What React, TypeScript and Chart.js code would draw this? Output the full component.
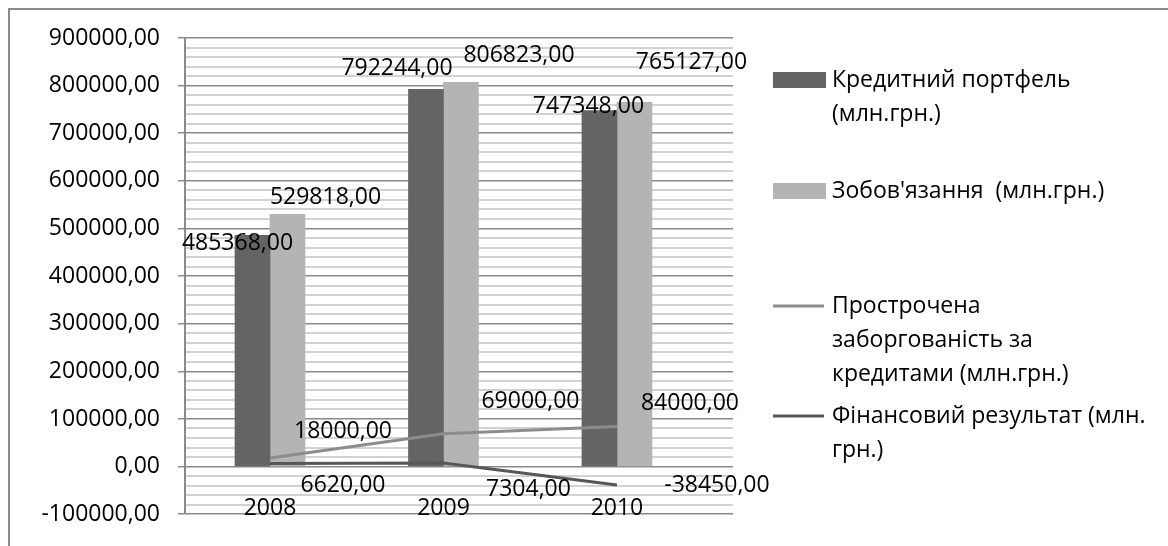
import React, { useEffect, useRef } from 'react';
import { Chart, registerables } from 'chart.js';

Chart.register(...registerables);

// ---- data ----
const years = [2008, 2009, 2010];
const yearLabels = ['2008', '2009', '2010'];
const creditPortfolio = [485368, 792244, 747348];
const liabilities = [529818, 806823, 765127];
const overdueDebt = [18000, 69000, 84000];
const financialResult = [6620, 7304, -38450];
const seriesNames = [
  'Кредитний портфель (млн.грн.)',
  "Зобов'язання  (млн.грн.)",
  'Прострочена заборгованість за кредитами (млн.грн.)',
  'Фінансовий результат (млн. грн.)',
];
const legendLines = [
  ['Кредитний портфель', '(млн.грн.)'],
  ["Зобов'язання  (млн.грн.)"],
  ['Прострочена', 'заборгованість за', 'кредитами (млн.грн.)'],
  ['Фінансовий результат (млн.', 'грн.)'],
];
const yMin = -100000;
const yMax = 900000;
const yMajorStep = 100000;
const yMinorStep = 20000;

// ---- styling / layout ----
const FONT = '"Open Sans", "Noto Sans", sans-serif';
const FONT_SIZE = 23;
const colors = ['#646464', '#b4b4b4', '#8c8c8c', '#575757'];
// data label offsets (px) from each mark's anchor
const labelOffsets = [
  [[-15, 8], [-29, -21], [-11, -4]],
  [[38, -17], [58, -27], [57, -40]],
  [[73, -27], [87, -32], [73, -23]],
  [[73, 22], [85, 26], [100, 1]],
];

const fmt = (v: number) => v.toFixed(2).replace('.', ',');

const toPts = (arr: number[]) => arr.map((y, i) => ({ x: years[i], y }));

export default function App() {
  const ref = useRef<HTMLCanvasElement | null>(null);

  useEffect(() => {
    if (!ref.current) return;

    const decorPlugin = {
      id: 'decor',
      beforeDraw(chart: any) {
        const ctx = chart.ctx;
        ctx.save();
        ctx.fillStyle = '#ffffff';
        ctx.fillRect(0, 0, chart.width, chart.height);
        ctx.restore();
      },
      afterDraw(chart: any) {
        const ctx = chart.ctx;
        const xs = chart.scales.x;
        const ys = chart.scales.y;
        ctx.save();
        // outer frame
        ctx.strokeStyle = '#8c8c8c';
        ctx.lineWidth = 2;
        ctx.beginPath();
        ctx.moveTo(9, chart.height);
        ctx.lineTo(9, 9);
        ctx.lineTo(chart.width, 9);
        ctx.stroke();

        ctx.font = `${FONT_SIZE}px ${FONT}`;
        ctx.fillStyle = '#000';
        ctx.textBaseline = 'middle';
        ctx.textAlign = 'center';
        // category labels
        years.forEach((yr, i) => {
          ctx.fillText(yearLabels[i], xs.getPixelForValue(yr), ys.getPixelForValue(yMin) - 6);
        });

        // data labels
        chart.data.datasets.forEach((ds: any, di: number) => {
          const meta = chart.getDatasetMeta(di);
          meta.data.forEach((el: any, i: number) => {
            const v = ds.data[i].y;
            const anchorY = ys.getPixelForValue(v);
            const off = labelOffsets[di][i];
            ctx.fillText(fmt(v), el.x + off[0], anchorY + off[1]);
          });
        });

        // legend
        const lx = 773;
        const tx = 832;
        const lineH = 34;
        const starts = [80, 191, 306, 416];
        ctx.textAlign = 'left';
        legendLines.forEach((lines, k) => {
          const y0 = starts[k];
          if (k < 2) {
            ctx.fillStyle = colors[k];
            ctx.fillRect(lx, y0 - 8, 53, 16);
          } else {
            ctx.strokeStyle = colors[k];
            ctx.lineWidth = 3;
            ctx.beginPath();
            ctx.moveTo(lx, y0);
            ctx.lineTo(tx - 8, y0);
            ctx.stroke();
          }
          ctx.fillStyle = '#000';
          lines.forEach((t, j) => ctx.fillText(t, tx, y0 + j * lineH));
        });
        ctx.restore();
      },
    };

    const chart = new Chart(ref.current, {
      type: 'bar',
      data: {
        datasets: [
          {
            type: 'bar',
            label: seriesNames[0],
            data: toPts(creditPortfolio),
            backgroundColor: colors[0],
            barThickness: 35,
            order: 2,
          },
          {
            type: 'bar',
            label: seriesNames[1],
            data: toPts(liabilities),
            backgroundColor: colors[1],
            barThickness: 35,
            order: 2,
          },
          {
            type: 'line',
            label: seriesNames[2],
            data: toPts(overdueDebt),
            borderColor: colors[2],
            borderWidth: 3,
            pointRadius: 0,
            tension: 0,
            order: 1,
          },
          {
            type: 'line',
            label: seriesNames[3],
            data: toPts(financialResult),
            borderColor: colors[3],
            borderWidth: 3,
            pointRadius: 0,
            tension: 0,
            order: 0,
          },
        ] as any,
      },
      options: {
        animation: false,
        responsive: false,
        layout: { padding: { left: 0, right: 435, top: 38, bottom: 30 } },
        plugins: {
          legend: { display: false },
          tooltip: { enabled: false },
        },
        scales: {
          x: {
            type: 'linear',
            display: false,
            min: 2007.51,
            max: 2010.669,
            offset: false,
          },
          y: {
            min: yMin,
            max: yMax,
            afterFit: (s: any) => {
              s.width = 185;
            },
            afterBuildTicks: (s: any) => {
              const t = [];
              for (let v = yMin; v <= yMax; v += yMinorStep) t.push({ value: v });
              s.ticks = t;
            },
            ticks: {
              autoSkip: false,
              padding: 18,
              color: '#000',
              font: { family: FONT, size: FONT_SIZE },
              callback: (v: any) => (Math.round(v) % yMajorStep === 0 ? fmt(Number(v)) : ''),
            },
            grid: {
              drawTicks: true,
              tickLength: 7,
              color: (c: any) =>
                c.tick && Math.round(c.tick.value) % yMajorStep === 0 ? '#8a8a8a' : '#d2d2d2',
              lineWidth: (c: any) =>
                c.tick && Math.round(c.tick.value) % yMajorStep === 0 ? 1.5 : 2,
              tickColor: (c: any) =>
                c.tick && Math.round(c.tick.value) % yMajorStep === 0 ? '#8a8a8a' : 'rgba(0,0,0,0)',
            },
            border: { display: true, color: '#8a8a8a', width: 2 },
          },
        },
      },
      plugins: [decorPlugin],
    } as any);

    return () => chart.destroy();
  }, []);

  return (
    <div style={{ position: 'absolute', left: 0, top: 0, width: 1168, height: 546 }}>
      <canvas ref={ref} width={1168} height={546} />
    </div>
  );
}
